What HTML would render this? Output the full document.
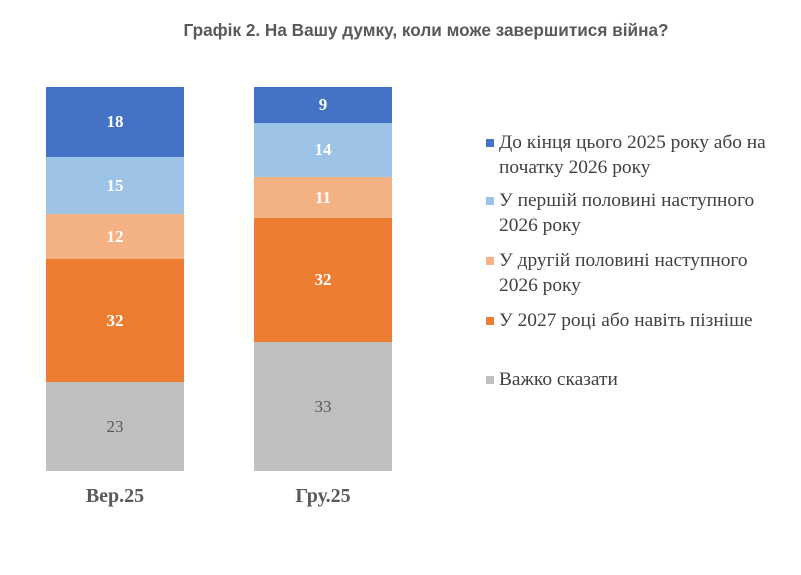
<!DOCTYPE html>
<html><head><meta charset="utf-8"><style>
body{margin:0;width:801px;height:575px;background:#fff;position:relative;overflow:hidden;font-family:"Liberation Serif",serif}
.t{position:absolute;left:0;width:852px;top:20px;text-align:center;font:bold 17.2px "Liberation Sans",sans-serif;color:#595959}
.s{position:absolute;display:flex;align-items:center;justify-content:center;font-weight:bold;font-size:17px;color:#fff}
.g{font-weight:normal;color:#595959}
.l{position:absolute;left:499px;font-size:19.4px;color:#404040;line-height:25px;white-space:nowrap}
.m{position:absolute;left:486px;width:8px;height:8px}
.x{position:absolute;top:485px;width:138px;text-align:center;font-weight:bold;font-size:20px;color:#595959}
</style></head><body>
<div class="t">Графік 2. На Вашу думку, коли може завершитися війна?</div>
<div class="s" style="left:46px;width:138px;top:87px;height:70px;background:#4472c4">18</div>
<div class="s" style="left:46px;width:138px;top:157px;height:57px;background:#9dc3e6">15</div>
<div class="s" style="left:46px;width:138px;top:214px;height:45px;background:#f4b183">12</div>
<div class="s" style="left:46px;width:138px;top:259px;height:123px;background:#ed7d31">32</div>
<div class="s g" style="left:46px;width:138px;top:382px;height:89px;background:#bfbfbf">23</div>
<div class="s" style="left:254px;width:138px;top:87px;height:36px;background:#4472c4">9</div>
<div class="s" style="left:254px;width:138px;top:123px;height:54px;background:#9dc3e6">14</div>
<div class="s" style="left:254px;width:138px;top:177px;height:41px;background:#f4b183">11</div>
<div class="s" style="left:254px;width:138px;top:218px;height:124px;background:#ed7d31">32</div>
<div class="s g" style="left:254px;width:138px;top:342px;height:129px;background:#bfbfbf">33</div>
<div class="x" style="left:46px">Вер.25</div>
<div class="x" style="left:254px">Гру.25</div>
<div class="m" style="top:139px;background:#4472c4"></div>
<div class="l" style="top:130px">До кінця цього 2025 року або на<br>початку 2026 року</div>
<div class="m" style="top:197px;background:#9dc3e6"></div>
<div class="l" style="top:188px">У першій половині наступного<br>2026 року</div>
<div class="m" style="top:257px;background:#f4b183"></div>
<div class="l" style="top:248px">У другій половині наступного<br>2026 року</div>
<div class="m" style="top:317px;background:#ed7d31"></div>
<div class="l" style="top:308px">У 2027 році або навіть пізніше</div>
<div class="m" style="top:376px;background:#bfbfbf"></div>
<div class="l" style="top:367px">Важко сказати</div>
</body></html>
